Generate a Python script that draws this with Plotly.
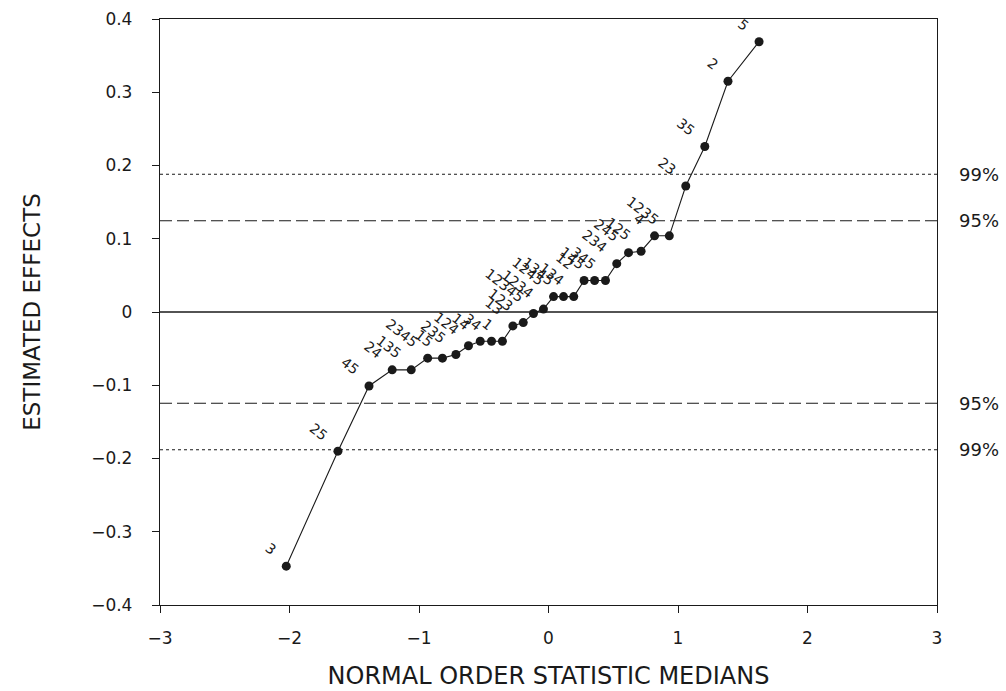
import plotly.graph_objects as go

# Normal order statistic medians (x) and estimated effects (y)
x_medians = [-2.025, -1.626, -1.386, -1.207, -1.060, -0.933, -0.819, -0.715, -0.618, -0.527,
             -0.440, -0.356, -0.275, -0.195, -0.116, -0.039, 0.039, 0.116, 0.195, 0.275,
             0.356, 0.440, 0.527, 0.618, 0.715, 0.819, 0.933, 1.060, 1.207, 1.386, 1.626]
effects = [-0.347, -0.190, -0.101, -0.079, -0.079, -0.063, -0.063, -0.058, -0.046, -0.040,
           -0.040, -0.040, -0.019, -0.0145, -0.002, 0.004, 0.021, 0.021, 0.021, 0.043,
           0.043, 0.043, 0.066, 0.081, 0.083, 0.104, 0.104, 0.172, 0.226, 0.315, 0.369]
effect_labels = ["3", "25", "45", "24", "135", "2345", "15", "235", "124", "14",
                 "34", "1", "13", "123", "12345", "1234", "1245", "1345", "134", "12",
                 "145", "345", "234", "245", "125", "4", "1235", "23", "35", "2", "5"]

# Reference (significance) lines
ref_levels = [0.188, 0.1245, -0.1245, -0.188]
ref_names = ["99%", "95%", "95%", "99%"]
ref_dash = ["3px,3px", "12px,5px", "12px,5px", "3px,3px"]

y_ticks = [-0.4, -0.3, -0.2, -0.1, 0, 0.1, 0.2, 0.3, 0.4]
x_ticks = [-3, -2, -1, 0, 1, 2, 3]

FONT = "DejaVu Sans"
INK = "#1a1a1a"

fig = go.Figure()
fig.add_trace(go.Scatter(
    x=x_medians, y=effects, mode="lines+markers",
    line=dict(color=INK, width=1.1),
    marker=dict(color=INK, size=9, symbol="circle"),
    hoverinfo="x+y", showlegend=False,
))

# zero line
fig.add_shape(type="line", xref="paper", x0=0, x1=1, yref="y", y0=0, y1=0,
              line=dict(color=INK, width=1.3))
for lvl, name, dsh in zip(ref_levels, ref_names, ref_dash):
    fig.add_shape(type="line", xref="paper", x0=0, x1=1, yref="y", y0=lvl, y1=lvl,
                  line=dict(color=INK, width=1.1, dash=dsh))
    fig.add_annotation(xref="paper", x=1, yref="y", y=lvl, text=name, showarrow=False,
                       xanchor="left", yanchor="middle", xshift=20,
                       font=dict(family=FONT, size=18, color=INK))

for xv, yv, lab in zip(x_medians, effects, effect_labels):
    fig.add_annotation(x=xv, y=yv, text=lab, showarrow=False, textangle=38,
                       xanchor="right", yanchor="bottom", xshift=-4, yshift=5,
                       font=dict(family=FONT, size=14, color=INK))

axis_common = dict(
    showgrid=False, zeroline=False, showline=True, linecolor=INK, linewidth=1.3,
    mirror=True, ticks="outside", ticklen=7, tickwidth=1.2, tickcolor=INK,
    tickfont=dict(family=FONT, size=17, color=INK),
)
fig.update_xaxes(range=[-3, 3], tickvals=x_ticks, ticklabelstandoff=10,
                 title=dict(text="NORMAL ORDER STATISTIC MEDIANS", standoff=20,
                            font=dict(family=FONT, size=24, color=INK)),
                 **axis_common)
fig.update_yaxes(range=[-0.4, 0.4], tickvals=y_ticks, ticklabelstandoff=16,
                 title=dict(text="ESTIMATED EFFECTS", standoff=44,
                            font=dict(family=FONT, size=23, color=INK)),
                 **axis_common)

fig.update_layout(
    width=1006, height=691,
    margin=dict(l=160, r=69, t=19, b=86, autoexpand=False),
    paper_bgcolor="white", plot_bgcolor="white",
)
fig.write_html("out.html")
